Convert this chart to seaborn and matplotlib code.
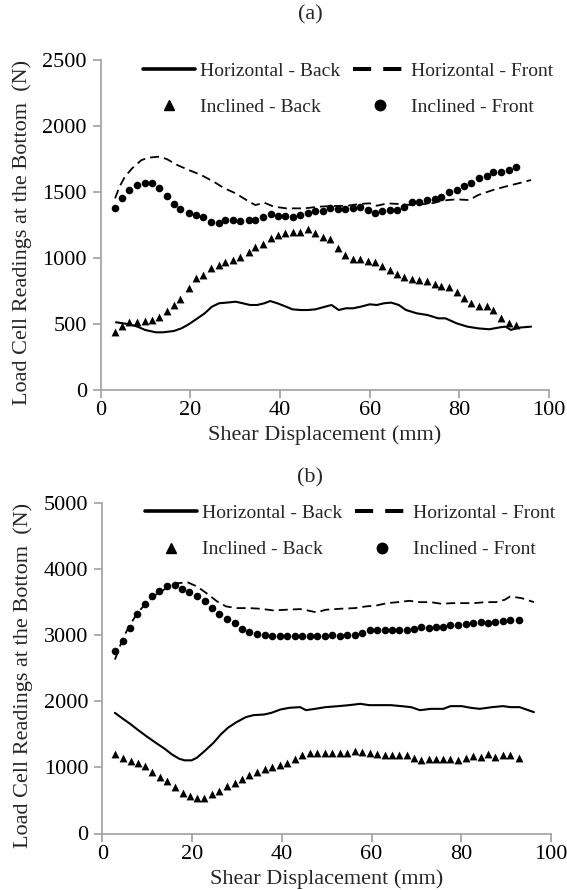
import numpy as np
import pandas as pd
import matplotlib
matplotlib.use("Agg")
import matplotlib.pyplot as plt
import seaborn as sns
from matplotlib.lines import Line2D

# ---------------- Panel (a) data ----------------
a_hb_x = [3.4, 5.0, 6.6, 8.2, 9.9, 12.3, 13.9, 16.3, 18.0, 19.6, 21.6, 23.2, 24.8, 26.4, 28.1, 30.1,
          31.7, 33.3, 34.9, 36.5, 37.8, 39.4, 41.0, 42.8, 44.6, 46.2, 47.9, 49.5, 51.5, 53.1, 54.7,
          56.3, 58.0, 60.0, 61.6, 63.2, 64.8, 66.5, 68.1, 70.5, 72.9, 75.3, 76.9, 79.4, 81.8, 84.2,
          86.7, 89.1, 90.3, 91.5, 93.1, 96.0]
a_hb_y = [513, 505, 497, 480, 455, 437, 437, 447, 467, 497, 543, 581, 631, 657, 662, 669,
          657, 644, 644, 657, 674, 657, 636, 611, 606, 606, 611, 626, 644, 606, 619,
          619, 631, 649, 644, 657, 662, 644, 606, 581, 568, 543, 543, 505, 480, 467,
          460, 475, 480, 455, 472, 480]

a_hf_x = [3.2, 4.2, 5.4, 7.0, 9.1, 10.7, 13.1, 14.7, 17.1, 19.6, 22.4, 25.2, 27.6, 30.1, 32.5, 34.5,
          36.5, 38.6, 41.4, 45.4, 48.7, 51.9, 55.1, 57.6, 60.0, 61.6, 64.0, 66.5, 69.3, 71.3, 73.3,
          75.3, 77.4, 79.4, 82.2, 84.2, 87.5, 90.7, 93.1, 96.0]
a_hf_y = [1452, 1540, 1616, 1679, 1742, 1760, 1768, 1750, 1704, 1667, 1629, 1578, 1528, 1490, 1439, 1401,
          1419, 1389, 1376, 1376, 1389, 1394, 1396, 1409, 1414, 1396, 1414, 1409, 1401, 1409, 1409,
          1427, 1439, 1444, 1439, 1477, 1515, 1545, 1565, 1591]

a_ib_x = [3.1, 4.8, 6.4, 8.1, 9.8, 11.4, 13.1, 14.7, 16.3, 17.8, 19.6, 21.3, 22.8, 24.7, 26.3, 27.8,
          29.5, 31.0, 33.0, 34.4, 36.3, 38.0, 39.5, 41.1, 42.8, 44.5, 46.2, 47.9, 49.6, 51.1, 52.9,
          54.6, 56.2, 57.8, 59.6, 61.2, 62.8, 64.6, 66.2, 67.7, 69.4, 71.1, 72.8, 74.5, 76.0, 77.8,
          79.4, 81.0, 82.6, 84.4, 86.1, 87.6, 89.3, 91.0, 92.6]
a_ib_y = [437, 487, 513, 518, 523, 530, 556, 598, 644, 689, 770, 846, 871, 927, 947, 967,
          985, 1010, 1043, 1086, 1103, 1149, 1174, 1187, 1199, 1199, 1217, 1187, 1162, 1141, 1078,
          1023, 990, 990, 977, 967, 942, 909, 876, 859, 838, 833, 826, 800, 790, 783,
          745, 699, 656, 636, 636, 606, 543, 510, 492]

a_if_x = a_ib_x
a_if_y = [1376, 1452, 1515, 1553, 1565, 1565, 1533, 1472, 1406, 1368, 1338, 1326, 1313, 1275, 1262, 1288,
          1288, 1280, 1288, 1288, 1313, 1331, 1318, 1318, 1313, 1326, 1338, 1356, 1358, 1376, 1371,
          1371, 1376, 1389, 1364, 1338, 1356, 1364, 1364, 1389, 1421, 1427, 1439, 1447, 1465, 1502,
          1515, 1548, 1571, 1603, 1624, 1654, 1649, 1667, 1687]

# ---------------- Panel (b) data ----------------
b_hb_x = [2.8, 4.6, 6.2, 7.8, 9.8, 11.9, 13.9, 15.5, 17.1, 18.3, 19.9, 21.1, 22.8, 24.8, 26.4, 28.0,
          29.9, 32.0, 33.7, 36.1, 37.7, 39.7, 41.7, 44.1, 45.4, 47.4, 49.8, 52.6, 55.0, 57.5, 59.5,
          61.9, 64.3, 66.7, 68.8, 70.8, 73.2, 76.0, 77.6, 80.1, 82.1, 84.1, 86.9, 89.3, 91.0, 93.0, 96.2]
b_hb_y = [1824, 1734, 1658, 1573, 1472, 1372, 1281, 1196, 1131, 1106, 1106, 1146, 1246, 1372, 1497, 1598,
          1683, 1759, 1789, 1799, 1824, 1874, 1900, 1910, 1864, 1884, 1910, 1925, 1940, 1960, 1940,
          1940, 1940, 1925, 1910, 1864, 1884, 1884, 1925, 1925, 1900, 1884, 1910, 1925, 1910, 1910, 1834]

b_hf_x = [2.8, 3.4, 4.6, 6.2, 7.8, 9.8, 11.9, 14.3, 16.7, 19.1, 21.1, 23.2, 25.6, 27.6, 30.0, 32.8,
          35.3, 38.1, 40.9, 44.1, 45.7, 47.8, 49.8, 53.0, 56.3, 58.7, 61.1, 63.5, 65.9, 68.4, 70.8,
          73.2, 75.6, 78.0, 80.5, 82.9, 85.3, 87.7, 89.7, 90.9, 93.4, 96.2]
b_hf_y = [2628, 2729, 2955, 3156, 3332, 3482, 3608, 3709, 3784, 3794, 3734, 3633, 3507, 3432, 3407, 3407,
          3397, 3372, 3382, 3392, 3372, 3342, 3382, 3397, 3407, 3432, 3447, 3482, 3497, 3517, 3497,
          3497, 3472, 3482, 3482, 3482, 3497, 3497, 3533, 3583, 3558, 3497]

b_ib_x = [2.8, 4.6, 6.4, 8.0, 9.6, 11.1, 12.8, 14.4, 16.1, 17.9, 19.5, 21.1, 22.6, 24.4, 26.0, 27.8,
          29.5, 31.1, 32.8, 34.5, 36.2, 37.9, 39.5, 41.1, 42.9, 44.5, 46.3, 47.9, 49.6, 51.2, 53.0,
          54.5, 56.3, 57.9, 59.6, 61.3, 62.9, 64.6, 66.2, 67.8, 69.4, 71.0, 72.8, 74.3, 75.9, 77.6,
          79.3, 81.0, 82.6, 84.3, 85.9, 87.5, 89.3, 90.9, 92.8]
b_ib_y = [1196, 1146, 1095, 1060, 1020, 935, 854, 794, 704, 618, 568, 533, 533, 593, 643, 719,
          759, 819, 879, 930, 970, 1005, 1030, 1060, 1131, 1181, 1221, 1211, 1221, 1211, 1211,
          1221, 1246, 1236, 1221, 1206, 1186, 1181, 1186, 1186, 1146, 1106, 1121, 1121, 1131, 1131,
          1111, 1146, 1171, 1156, 1196, 1156, 1186, 1186, 1146]

b_if_x = [2.8, 4.6, 6.2, 7.8, 9.6, 11.1, 12.7, 14.4, 16.1, 17.8, 19.4, 21.0, 22.8, 24.5, 26.0, 27.8,
          29.5, 31.1, 32.8, 34.5, 36.2, 37.9, 39.5, 41.1, 42.9, 44.5, 46.3, 47.9, 49.6, 51.2, 53.0,
          54.5, 56.3, 57.9, 59.6, 61.3, 62.9, 64.6, 66.2, 67.8, 69.4, 71.0, 72.8, 74.3, 75.9, 77.6,
          79.3, 81.0, 82.6, 84.3, 85.9, 87.5, 89.3, 90.9, 92.8]
b_if_y = [2754, 2904, 3105, 3317, 3472, 3593, 3668, 3734, 3749, 3693, 3643, 3583, 3507, 3407, 3322, 3241,
          3181, 3095, 3045, 3015, 2995, 2980, 2980, 2990, 2990, 2990, 2980, 2990, 2990, 2995, 2980,
          2995, 3005, 3030, 3070, 3080, 3070, 3070, 3080, 3070, 3090, 3116, 3105, 3120, 3120, 3156,
          3156, 3166, 3181, 3191, 3181, 3191, 3216, 3231, 3231]

labels = ["Horizontal - Back", "Horizontal - Front", "Inclined - Back", "Inclined - Front"]
x_ticks = [0, 20, 40, 60, 80, 100]
a_yticks = [0, 500, 1000, 1500, 2000, 2500]
b_yticks = [0, 1000, 2000, 3000, 4000, 5000]

sns.set_theme(style="ticks")
plt.rcParams["font.family"] = ["Liberation Serif", "DejaVu Serif"]
plt.rcParams["axes.unicode_minus"] = False

W, H = 567, 890
fig = plt.figure(figsize=(W / 100, H / 100), dpi=100)
ax_a = fig.add_axes([100.7 / W, (H - 390) / H, (549 - 100.7) / W, 330 / H])
ax_b = fig.add_axes([102.3 / W, (H - 833.5) / H, (551 - 102.3) / W, 330.8 / H])

TICK_FS = 16
XL_FS = 16
YL_FS = 16
LEG_FS = 14
GRAY = "#a0a0a0"


def draw(ax, hb, hf, ib, if_, yticks, ylab_xy):
    sns.lineplot(x=hb[0], y=hb[1], ax=ax, color="black", lw=1.5, sort=False,
                 estimator=None)
    sns.lineplot(x=hf[0], y=hf[1], ax=ax, color="black", lw=1.3, sort=False,
                 estimator=None, linestyle=(0, (5, 2.8)))
    sns.scatterplot(x=ib[0], y=ib[1], ax=ax, color="black", marker="^", s=32,
                    linewidth=0)
    sns.scatterplot(x=if_[0], y=if_[1], ax=ax, color="black", marker="o", s=30,
                    linewidth=0)
    ax.set_xlim(0, 100)
    ax.set_ylim(yticks[0], yticks[-1])
    ax.set_xticks(x_ticks)
    ax.set_yticks(yticks)
    ax.tick_params(axis="both", labelsize=TICK_FS, color=GRAY, length=6, width=1.2,
                   labelcolor="black", direction="out")
    ax.tick_params(axis="y", pad=4)
    ax.tick_params(axis="x", pad=2)
    for side in ["top", "right"]:
        ax.spines[side].set_visible(False)
    for side in ["left", "bottom"]:
        ax.spines[side].set_color(GRAY)
        ax.spines[side].set_linewidth(1.2)
    ax.set_xlabel("Shear Displacement (mm)", fontsize=XL_FS, labelpad=4)
    ax.set_ylabel("Load Cell Readings at the Bottom  (N)", fontsize=YL_FS)
    ax.yaxis.set_label_coords(*ylab_xy)

    handles = [
        Line2D([], [], color="black", lw=2.6),
        Line2D([], [], ls="none", marker="^", color="black", markersize=7.5),
        Line2D([], [], color="black", lw=2.9, linestyle=(0, (4.5, 3)), solid_capstyle="butt"),
        Line2D([], [], ls="none", marker="o", color="black", markersize=7.5),
    ]
    hl = [labels[0], labels[2], labels[1], labels[3]]
    ax.legend(handles, hl, ncol=2, loc="upper right", bbox_to_anchor=(1.009, 0.994),
              frameon=False, fontsize=LEG_FS, handlelength=2.7, handletextpad=0.25,
              columnspacing=0.67, labelspacing=0.95, borderpad=0, borderaxespad=0)


draw(ax_a, (a_hb_x, a_hb_y), (a_hf_x, a_hf_y), (a_ib_x, a_ib_y), (a_if_x, a_if_y),
     a_yticks, (-0.153, 0.477))
draw(ax_b, (b_hb_x, b_hb_y), (b_hf_x, b_hf_y), (b_ib_x, b_ib_y), (b_if_x, b_if_y),
     b_yticks, (-0.154, 0.479))

fig.text(310 / W, 1 - 15 / H, "(a)", ha="center", va="center", fontsize=XL_FS)
fig.text(310 / W, 1 - 478 / H, "(b)", ha="center", va="center", fontsize=XL_FS)

fig.savefig("out.png", dpi=100)
